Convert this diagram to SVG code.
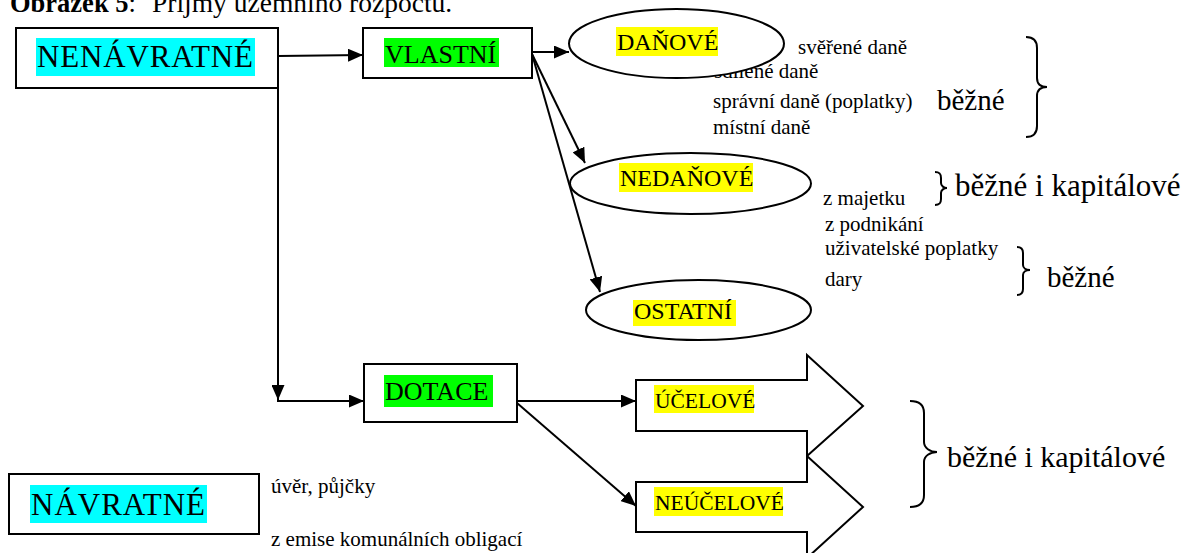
<svg xmlns="http://www.w3.org/2000/svg" width="1184" height="553" viewBox="0 0 1184 553" font-family="'Liberation Serif', 'DejaVu Serif', serif">
<defs>
<marker id="ah" markerUnits="userSpaceOnUse" markerWidth="16" markerHeight="13" refX="15" refY="6.5" orient="auto">
<path d="M0,0 L15,6.5 L0,13 z" fill="#000"/>
</marker>
<style>
.box{fill:#fff;stroke:#000;stroke-width:2}
.ell{fill:#fff;stroke:#000;stroke-width:2}
.con{fill:none;stroke:#000;stroke-width:2}
.brace{fill:none;stroke:#000;stroke-width:2}
.cy{fill:#00ffff}.gr{fill:#00ff00}.ye{fill:#ffff00}
</style>
</defs>
<rect width="1184" height="553" fill="#fff"/>

<text x="10" y="12" font-size="26.5" font-family="'Liberation Serif', 'DejaVu Serif', serif"><tspan font-weight="bold">Obrázek 5</tspan>:</text>
<text x="152" y="12" font-size="27.5" font-family="'Liberation Serif', 'DejaVu Serif', serif">Příjmy územního rozpočtu.</text>

<text x="714" y="78" font-size="21" font-family="'Liberation Serif', 'DejaVu Serif', serif">sdílené daně</text>

<g id="nenavratne">
<rect class="box" x="16" y="28" width="262" height="60"/>
<rect class="cy" x="36" y="38" width="219" height="38"/>
<text x="37" y="67" font-size="31" textLength="216" lengthAdjust="spacing" font-family="'Liberation Serif', 'DejaVu Serif', serif">NENÁVRATNÉ</text>
</g>

<g id="vlastni">
<rect class="box" x="363" y="28" width="169" height="50"/>
<rect class="gr" x="384" y="38" width="115" height="29"/>
<text x="385" y="63" font-size="26" font-family="'Liberation Serif', 'DejaVu Serif', serif">VLASTNÍ</text>
</g>

<g id="danove">
<ellipse class="ell" cx="676.5" cy="43.5" rx="107.5" ry="34.5"/>
<rect class="ye" x="616" y="27" width="102" height="29"/>
<text x="617" y="50" font-size="24" font-family="'Liberation Serif', 'DejaVu Serif', serif">DAŇOVÉ</text>
</g>

<g id="nedanove">
<ellipse class="ell" cx="690.5" cy="183.5" rx="120.5" ry="30.5"/>
<rect class="ye" x="619" y="163" width="134" height="29"/>
<text x="620" y="186" font-size="24" font-family="'Liberation Serif', 'DejaVu Serif', serif">NEDAŇOVÉ</text>
</g>

<g id="ostatni">
<ellipse class="ell" cx="698.5" cy="310" rx="112.5" ry="30"/>
<rect class="ye" x="633" y="300" width="103" height="26"/>
<text x="634" y="319" font-size="24" font-family="'Liberation Serif', 'DejaVu Serif', serif">OSTATNÍ</text>
</g>

<g id="dotace">
<rect class="box" x="364" y="364" width="153" height="58"/>
<rect class="gr" x="384" y="375" width="109" height="32"/>
<text x="385" y="400" font-size="26" font-family="'Liberation Serif', 'DejaVu Serif', serif">DOTACE</text>
</g>

<g id="ucelove">
<polygon class="box" points="636,380 807,380 807,355 863,406 807,456 807,431 636,431"/>
<rect class="ye" x="654" y="385" width="100" height="28"/>
<text x="655" y="408" font-size="21.5" font-family="'Liberation Serif', 'DejaVu Serif', serif">ÚČELOVÉ</text>
</g>

<g id="neucelove">
<polygon class="box" points="636,482 807,482 807,456 863,507 807,558 807,532 636,532"/>
<rect class="ye" x="654" y="487" width="129" height="29"/>
<text x="655" y="510" font-size="21.5" font-family="'Liberation Serif', 'DejaVu Serif', serif">NEÚČELOVÉ</text>
</g>

<g id="navratne">
<rect class="box" x="9" y="474" width="250" height="60"/>
<rect class="cy" x="30" y="485" width="177" height="38"/>
<text x="31" y="515" font-size="31" textLength="174" lengthAdjust="spacing" font-family="'Liberation Serif', 'DejaVu Serif', serif">NÁVRATNÉ</text>
</g>

<g id="connectors">
<line class="con" x1="278" y1="56" x2="363" y2="55" marker-end="url(#ah)"/>
<line class="con" x1="532" y1="52" x2="569" y2="52" marker-end="url(#ah)"/>
<line class="con" x1="532" y1="54" x2="585" y2="163" marker-end="url(#ah)"/>
<line class="con" x1="532" y1="54" x2="600" y2="292" marker-end="url(#ah)"/>
<line class="con" x1="278" y1="88" x2="278" y2="400" marker-end="url(#ah)"/>
<line class="con" x1="277" y1="401" x2="364" y2="401" marker-end="url(#ah)"/>
<line class="con" x1="517" y1="401" x2="636" y2="401" marker-end="url(#ah)"/>
<line class="con" x1="517" y1="403" x2="636" y2="506" marker-end="url(#ah)"/>
</g>

<g id="labels" font-family="'Liberation Serif', 'DejaVu Serif', serif">
<text x="798" y="54" font-size="21" font-family="'Liberation Serif', 'DejaVu Serif', serif">svěřené daně</text>
<text x="713" y="108" font-size="21" font-family="'Liberation Serif', 'DejaVu Serif', serif">správní daně (poplatky)</text>
<text x="713" y="134" font-size="21" font-family="'Liberation Serif', 'DejaVu Serif', serif">místní daně</text>
<text x="937" y="110" font-size="29" font-family="'Liberation Serif', 'DejaVu Serif', serif">běžné</text>
<text x="823" y="205" font-size="21" font-family="'Liberation Serif', 'DejaVu Serif', serif">z majetku</text>
<text x="825" y="231" font-size="21" font-family="'Liberation Serif', 'DejaVu Serif', serif">z podnikání</text>
<text x="825" y="255" font-size="21" font-family="'Liberation Serif', 'DejaVu Serif', serif">uživatelské poplatky</text>
<text x="825" y="286" font-size="21" font-family="'Liberation Serif', 'DejaVu Serif', serif">dary</text>
<text x="955" y="196" font-size="31" font-family="'Liberation Serif', 'DejaVu Serif', serif">běžné i kapitálové</text>
<text x="1047" y="287" font-size="29" font-family="'Liberation Serif', 'DejaVu Serif', serif">běžné</text>
<text x="947" y="467" font-size="30" font-family="'Liberation Serif', 'DejaVu Serif', serif">běžné i kapitálové</text>
<text x="271" y="493" font-size="21" font-family="'Liberation Serif', 'DejaVu Serif', serif">úvěr, půjčky</text>
<text x="271" y="546" font-size="21" font-family="'Liberation Serif', 'DejaVu Serif', serif">z emise komunálních obligací</text>
</g>

<g id="braces">
<path class="brace" d="M1026,37 C1034,37 1037,41 1037,48 L1037,78 C1037,84 1041,87 1047,87 C1041,87 1037,90 1037,96 L1037,126 C1037,133 1034,137 1026,137"/>
<path class="brace" d="M935,172 C940,172 941,174 941,178 L941,183 C941,186 944,188 947,188 C944,188 941,190 941,193 L941,199 C941,203 940,205 935,205"/>
<path class="brace" d="M1017,247 C1021,247 1023,249 1023,253 L1023,265 C1023,268 1026,270 1030,270 C1026,270 1023,272 1023,275 L1023,289 C1023,293 1021,295 1017,295"/>
<path class="brace" d="M910,401 C920,401 924,405 924,413 L924,442 C924,448 930,452 937,452 C930,452 924,456 924,462 L924,495 C924,503 920,507 910,507"/>
</g>
</svg>
